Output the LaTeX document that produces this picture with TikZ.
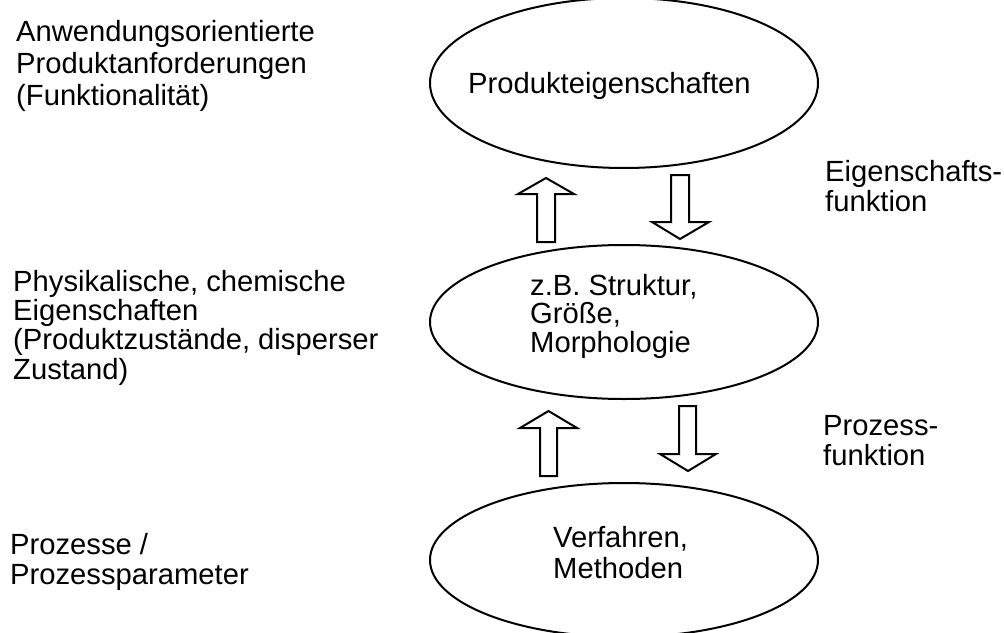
\documentclass[tikz,border=0pt]{standalone}
\usepackage{fontspec}
\setmainfont{Liberation Sans}
\usetikzlibrary{shapes.geometric}
\begin{document}
\begin{tikzpicture}[x=1pt,y=-1pt,
  ell/.style={draw,line width=2pt,ellipse,minimum width=388pt,minimum height=#1,inner sep=0pt},
  lbl/.style={anchor=base west,inner sep=0pt,align=left,font={\fontsize{29.2}{#1}\selectfont\lineskiplimit=-100pt\lineskip=0pt}},
  lbl/.default=30pt,
  blk/.style={draw,line width=2pt,fill=white,line join=miter}]
\useasboundingbox (0,0) rectangle (1004,632);
\clip (0,0) rectangle (1004,632);
% ellipses
\node[ell=170pt] (top) at (624,83) {};
\node[ell=154pt] (mid) at (624,322) {};
\node[ell=154pt] (bot) at (624,560) {};
% texts in ellipses (anchor = baseline of last line)
\node[lbl] (ttop) at (468,93) {Produkteigenschaften};
\node[lbl=28.5pt] (tmid) at (530,352) {z.B. Struktur,\\Größe,\\Morphologie};
\node[lbl=31pt] (tbot) at (553,578) {Verfahren,\\Methoden};
% left texts
\node[lbl=32pt] (l1) at (16,105) {Anwendungsorientierte\\Produktanforderungen\\(Funktionalität)};
\node[lbl=29.3pt] (l2) at (13,379) {Physikalische, chemische\\Eigenschaften\\(Produktzustände, disperser\\Zustand)};
\node[lbl=29.5pt] (l3) at (10,584) {Prozesse /\\Prozessparameter};
% right texts
\node[lbl=29.5pt] (r1) at (825,211) {Eigenschafts-\\funktion};
\node[lbl=29.5pt] (r2) at (823,465) {Prozess-\\funktion};
% block arrows
\draw[blk] (537,242) -- (537,194) -- (518,194) -- (546,178) -- (574,194) -- (555,194) -- (555,242) -- cycle;
\draw[blk] (671,175) -- (671,222) -- (652,222) -- (680,239) -- (709,222) -- (689,222) -- (689,175) -- cycle;
\draw[blk] (540,476) -- (540,428) -- (520,428) -- (548.5,411) -- (577,428) -- (557,428) -- (557,476) -- cycle;
\draw[blk] (679,406) -- (679,454) -- (660,454) -- (688,471) -- (716,454) -- (696,454) -- (696,406) -- cycle;
\end{tikzpicture}
\end{document}
